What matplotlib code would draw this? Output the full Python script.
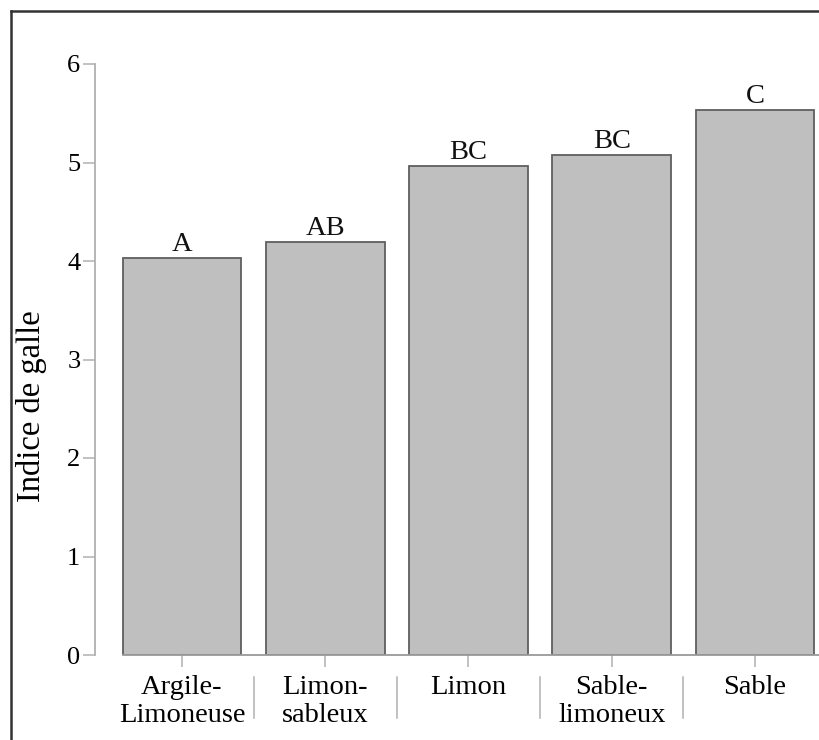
import matplotlib
matplotlib.use("Agg")
import matplotlib.pyplot as plt
from matplotlib.lines import Line2D
from matplotlib.transforms import blended_transform_factory

# soil texture classes and mean gall index
categories = ["Argile-\nLimoneuse", "Limon-\nsableux", "Limon", "Sable-\nlimoneux", "Sable"]
gall_index = [4.03, 4.19, 4.96, 5.08, 5.53]
groups = ["A", "AB", "BC", "BC", "C"]
y_ticks = [0, 1, 2, 3, 4, 5, 6]

plt.rcParams["font.family"] = ["Liberation Serif", "DejaVu Serif"]
FS = 20.5

fig = plt.figure(figsize=(8.19, 7.40), dpi=100)
ax = fig.add_axes([95 / 819, 85 / 740, 724 / 819, 591 / 740])

x = list(range(len(categories)))
bar_w = 0.83
ax.bar(x, gall_index, width=bar_w, color="#bfbfbf", edgecolor="#5f5f5f",
       linewidth=1.3, zorder=2)

for xi, v, g in zip(x, gall_index, groups):
    ax.text(xi, v + 0.01, g, ha="center", va="bottom", fontsize=FS, color="#111111")

ax.set_xlim(-0.607, 4.447)
ax.set_ylim(0, 6)
ax.set_yticks(y_ticks)
ax.set_yticklabels([str(t) for t in y_ticks])
ax.set_xticks(x)
ax.set_xticklabels(categories, fontsize=FS, linespacing=1.15)
ax.set_ylabel("Indice de galle", fontsize=23.5)
ax.yaxis.set_label_coords(-0.066, 0.421)

for s in ["top", "right"]:
    ax.spines[s].set_visible(False)
ax.spines["left"].set_color("#b0b0b0")
ax.spines["left"].set_linewidth(1.3)
ax.spines["bottom"].set_color("#9a9a9a")
ax.spines["bottom"].set_linewidth(1.3)
ax.spines["bottom"].set_bounds(-bar_w / 2, 4.447)

ax.tick_params(axis="y", length=8.5, width=1.1, color="#b0b0b0",
               labelsize=FS - 1.5, pad=2)
ax.tick_params(axis="x", length=8.5, width=1.1, color="#b0b0b0",
               labelsize=FS, pad=6)

# separators between the category labels
trans = blended_transform_factory(ax.transData, ax.transAxes)
for xm in [0.5, 1.5, 2.5, 3.5]:
    ax.plot([xm, xm], [-0.037, -0.107], transform=trans, color="#b0b0b0",
            linewidth=1.1, clip_on=False)

# outer frame (left and top edges)
fig.add_artist(Line2D([11 / 819, 11 / 819], [0, 1 - 11 / 740],
                      transform=fig.transFigure, color="#333333", linewidth=1.8))
fig.add_artist(Line2D([11 / 819, 1], [1 - 11 / 740, 1 - 11 / 740],
                      transform=fig.transFigure, color="#333333", linewidth=1.8))

fig.savefig("out.png", dpi=100, facecolor="white")
